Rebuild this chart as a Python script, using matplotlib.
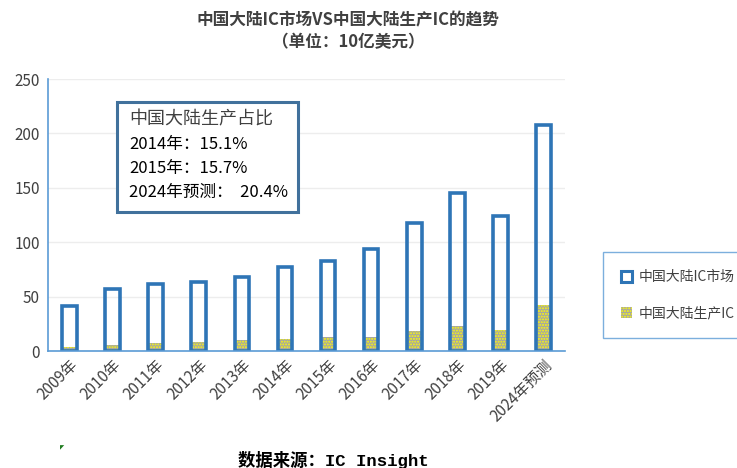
"""China mainland IC market vs. domestically produced IC (USD 10 bn)."""

import matplotlib
matplotlib.use("Agg")
import matplotlib.pyplot as plt
from matplotlib.patches import Patch, Rectangle

plt.rcParams["font.family"] = ["Noto Sans CJK SC", "DejaVu Sans"]
plt.rcParams["hatch.linewidth"] = 1.0

YEARS = ["2009年", "2010年", "2011年", "2012年", "2013年", "2014年",
         "2015年", "2016年", "2017年", "2018年", "2019年", "2024年预测"]
MARKET = [41, 57, 62, 63, 68, 77, 83, 94, 118, 145, 124, 208]
PRODUCTION = [4, 5.5, 7.4, 8.6, 10.4, 11.3, 12.6, 12.9, 18.4, 23, 19.3, 42.3]
SHARE_LINES = ["2014年：15.1%", "2015年：15.7%", "2024年预测：  20.4%"]

BLUE = "#2E75B6"
GRAY = "#A5A5A5"
YELLOW = "#FFFF00"
TEXT = "#404040"
DOTS = "......"

W, H = 737, 468
fig = plt.figure(figsize=(W / 100, H / 100), dpi=100)
ax = fig.add_axes([48 / W, 117 / H, 517 / W, 272 / H])

x = list(range(len(YEARS)))
ax.bar(x, PRODUCTION, width=0.32, color=GRAY, linewidth=0, zorder=2)
ax.bar(x, PRODUCTION, width=0.32, facecolor="none", edgecolor=YELLOW,
       hatch=DOTS, linewidth=0, zorder=3)
ax.bar(x, MARKET, width=0.34, facecolor="none", edgecolor=BLUE,
       linewidth=2.6, zorder=4)

ax.set_xlim(-0.5, len(YEARS) - 0.5)
ax.set_ylim(0, 250)
ax.set_yticks(range(0, 251, 50))
ax.grid(axis="y", color="#EDEDED", linewidth=1, zorder=0)
ax.set_axisbelow(True)
for side in ("top", "right"):
    ax.spines[side].set_visible(False)
for side in ("left", "bottom"):
    ax.spines[side].set_color("#5B9BD5")
    ax.spines[side].set_linewidth(1.2)
    ax.spines[side].set_zorder(5)
ax.tick_params(length=0, labelsize=11, colors=TEXT, pad=6)
ax.set_xticks(x)
ax.set_xticklabels(YEARS, rotation=45, ha="right", rotation_mode="anchor")
ax.tick_params(axis="x", pad=4)

fig.text(348 / W, 1 - 20 / H, "中国大陆IC市场VS中国大陆生产IC的趋势",
         ha="center", va="center", fontsize=12, fontweight="bold", color=TEXT)
fig.text(348 / W, 1 - 42 / H, "（单位：10亿美元）",
         ha="center", va="center", fontsize=12, fontweight="bold", color=TEXT)

# annotation box with share figures
fig.patches.append(Rectangle((117 / W, 1 - 212 / H), 181 / W, 110 / H,
                             transform=fig.transFigure, facecolor="white",
                             edgecolor="#41719C", linewidth=2.2, zorder=6))
fig.text(129 / W, 1 - 119 / H, "中国大陆生产占比", ha="left", va="center",
         fontsize=13, fontweight="light", color=TEXT, zorder=7)
for i, line in enumerate(SHARE_LINES):
    fig.text(129 / W, 1 - (144 + 24 * i) / H, line, ha="left", va="center",
             fontsize=12, color="black", zorder=7)

handles = [Patch(facecolor="white", edgecolor=BLUE, linewidth=2.2),
           Patch(facecolor=GRAY, edgecolor=YELLOW, hatch=DOTS, linewidth=0)]
leg = fig.legend(handles, ["中国大陆IC市场", "中国大陆生产IC"],
                 loc="upper left", bbox_to_anchor=(603 / W, 1 - 252 / H),
                 fontsize=10, frameon=True, fancybox=False,
                 handlelength=0.8, handleheight=0.8, handletextpad=0.5,
                 labelspacing=1.6, borderpad=1.3, borderaxespad=0)
leg.get_frame().set_edgecolor("#5B9BD5")
leg.get_frame().set_linewidth(1)
for t in leg.get_texts():
    t.set_color(TEXT)

fig.text(333 / W, 1 - 460 / H, "数据来源：IC Insight", ha="center", va="center",
         fontsize=12.5, fontweight="bold", color="black",
         family=["Liberation Mono", "Noto Sans CJK SC"])
fig.text(62 / W, 1 - 448 / H, "◤", ha="center", va="center", fontsize=4,
         color="#1E7B1E", family=["DejaVu Sans"])

fig.savefig("out.png", dpi=100)
